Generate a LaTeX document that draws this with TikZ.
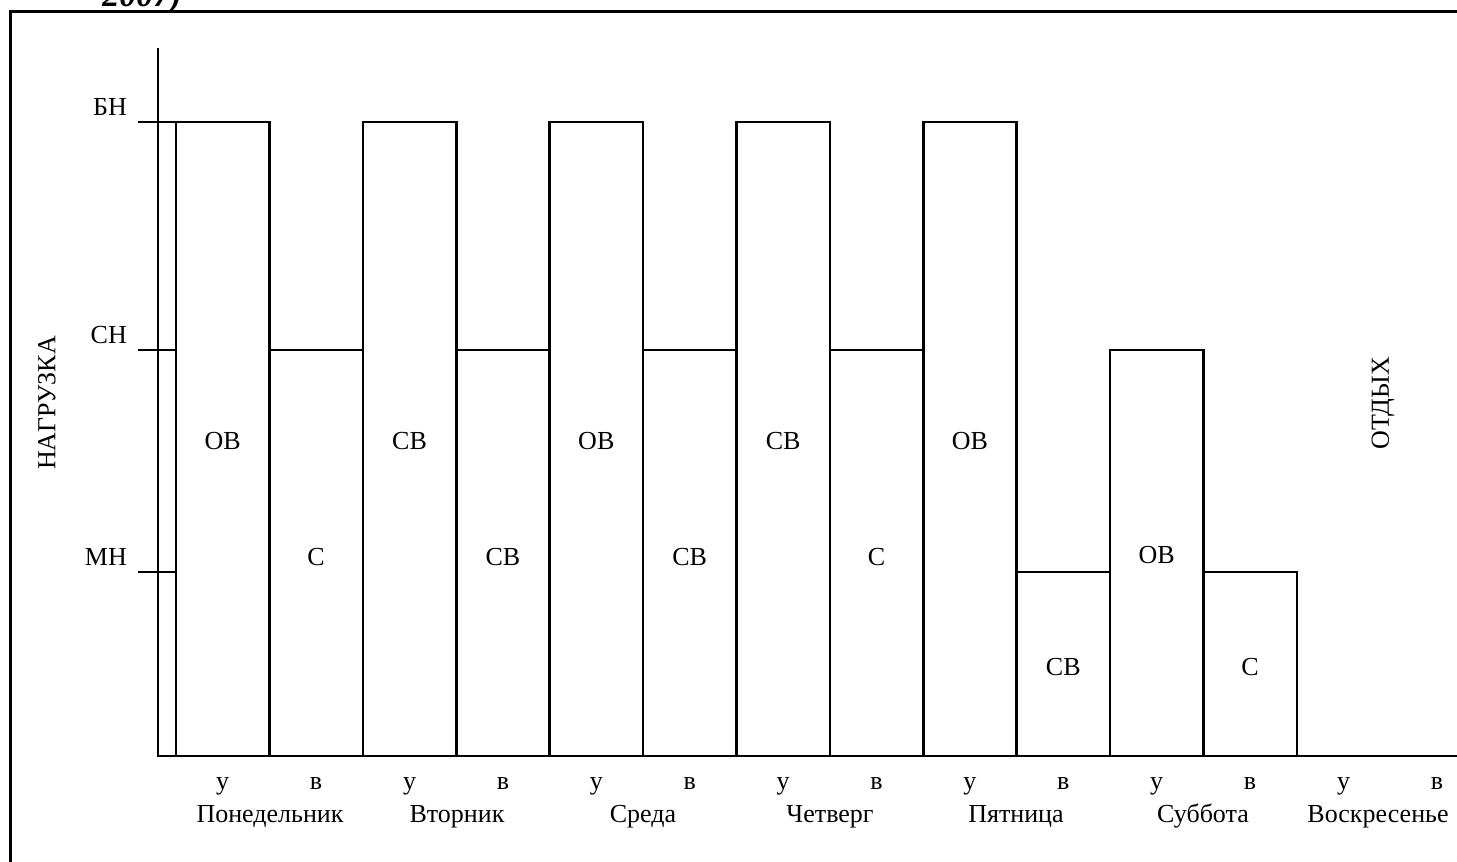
\documentclass[tikz,border=0pt]{standalone}
\usepackage{fontspec}
\setmainfont{Liberation Serif}
\begin{document}
\begin{tikzpicture}[x=1pt,y=-1pt,
  lw/.style={line width=2.6pt},
  bar/.style={draw,lw,anchor=south west,minimum width=93.4pt,inner sep=0pt,outer sep=0pt},
  lbl/.style={font=\fontsize{26}{30}\selectfont,inner sep=0pt},
  vlbl/.style={lbl,rotate=90}]
\useasboundingbox (0,0) rectangle (1457,862);
% heading fragment above the frame
\node[font=\fontsize{34}{40}\selectfont\bfseries\itshape,anchor=base east,inner sep=0pt] (head) at (182,6) {2007)};
% frame
\draw[line width=3pt] (10,880) -- (10,11) -- (1480,11);
% axes
\coordinate (o) at (158,756);
\coordinate (ytop) at (158,48);
\coordinate (xend) at (1470,756);
\draw[lw] (ytop) -- (o) -- (xend);
% level ticks and their names
\foreach \yy/\by/\nm in {122/115/БН,350/343/СН,572/565/МН}{
  \draw[lw] (138,\yy) -- (177,\yy);
  \node[lbl,anchor=base east] at (127,\by) {\nm};
}
% bars: slot start = 176 + 93.4*i
\foreach \i/\h in {0/634,1/406,2/634,3/406,4/634,5/406,6/634,7/406,8/634,9/184,10/406,11/184}{
  \node[bar,minimum height=\h pt] (bar\i) at ({176+93.4*\i},756) {};
}
% bar labels
\foreach \i/\yy/\t in {0/441/ОВ,1/557/С,2/441/СВ,3/557/СВ,4/441/ОВ,5/557/СВ,6/441/СВ,7/557/С,8/441/ОВ,9/667/СВ,10/555/ОВ,11/667/С}{
  \node[lbl] (t\i) at ({176+93.4*\i+46.7},\yy) {\t};
}
% morning / evening marks
\foreach \i in {0,2,...,12}{
  \node[lbl,anchor=base] (u\i) at ({176+93.4*\i+46.7},789) {у};
}
\foreach \i in {1,3,...,13}{
  \node[lbl,anchor=base] (v\i) at ({176+93.4*\i+46.7},789) {в};
}
% day names
\foreach \x/\d in {270/Понедельник,457/Вторник,643/Среда,830/Четверг,1016/Пятница,1203/Суббота,1378/Воскресенье}{
  \node[lbl,anchor=base] at (\x,822) {\d};
}
% rotated titles
\node[vlbl] (load) at (47,403) {НАГРУЗКА};
\node[vlbl] (rest) at (1383,403) {ОТДЫХ};
\end{tikzpicture}
\end{document}
